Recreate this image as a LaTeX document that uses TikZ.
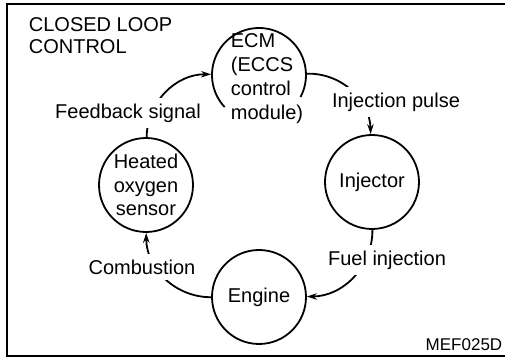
\documentclass[tikz,border=0pt]{standalone}
\usepackage{fontspec}
\setmainfont{Liberation Sans}
\usetikzlibrary{arrows.meta}

\begin{document}
\begin{tikzpicture}[>={Stealth[length=5pt,width=3.2pt]}, x=0.5pt, y=0.5pt, line width=0.9pt,
  font=\fontsize{10}{12}\selectfont,
  unit/.style={draw, circle, minimum size=47pt, inner sep=0pt, align=center},
  tag/.style={fill=white, inner sep=3pt}]
  \useasboundingbox (0,0) rectangle (505,358);
  \draw (505,354) -- (7,354) -- (7,2) -- (505,2);
  \node[anchor=west, align=left, inner sep=0pt, font=\fontsize{10}{11}\selectfont] (title) at (28,322) {CLOSED LOOP\\CONTROL};
  \node[unit, draw=none] (ecm) at (259,283) {};
  \draw ([shift={(-28:23.5pt)}]ecm.center) arc[start angle=-28, end angle=223, radius=23.5pt];
  \node[unit] (inj) at (372,176) {Injector};
  \node[unit] (eng) at (259,61) {Engine};
  \node[unit, font=\fontsize{10}{11.8}\selectfont] (hos) at (146,173) {Heated\\oxygen\\sensor};
  % the loop, clockwise
  \draw[->] (ecm) to[bend left=45] (inj);
  \draw[->] (inj) to[bend left=45] (eng);
  \draw[->] (eng) to[bend left=45] (hos);
  \draw[->] (hos) to[bend left=45] (ecm);
  \node[tag] (pulse) at (396,256) {Injection pulse};
  \node[tag] (fuel) at (387,98) {Fuel injection};
  \node[tag] (burn) at (142,91) {Combustion};
  \node[tag] (feedback) at (128,245) {Feedback signal};
  \node[anchor=west, align=left, inner sep=1.5pt] (ecmtext) at (227,279) {ECM\\(ECCS\\control\\module)};
  \node[font=\fontsize{8.5}{10}\selectfont] (code) at (464,13) {MEF025D};
\end{tikzpicture}
\end{document}
